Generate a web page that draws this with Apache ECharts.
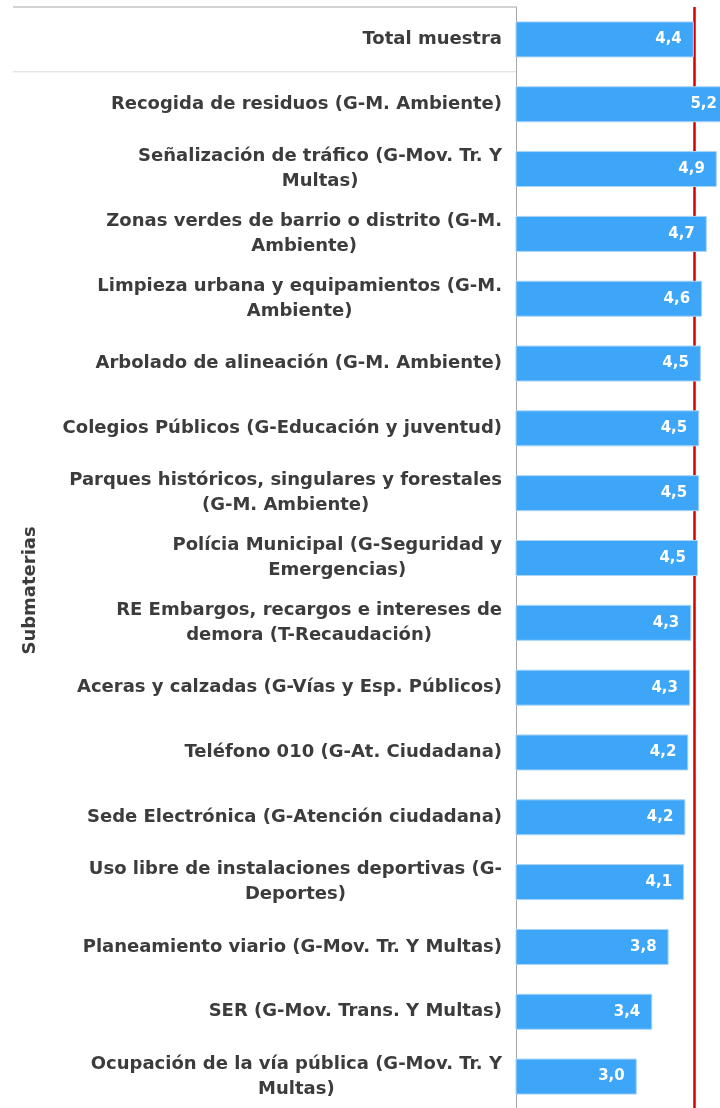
<!DOCTYPE html>
<html>
<head>
<meta charset="utf-8">
<script src="https://cdn.jsdelivr.net/npm/echarts@6/dist/echarts.min.js"></script>
<style>
  html, body { margin: 0; padding: 0; background: #fff; }
  #chart { width: 720px; height: 1108px; }
</style>
</head>
<body>
<div id="chart"></div>
<script>
// first entry is the sample total, the rest are the submaterias
const categories = [
  'Total muestra',
  'Recogida de residuos (G-M. Ambiente)',
  'Señalización de tráfico (G-Mov. Tr. Y\nMultas)',
  'Zonas verdes de barrio o distrito (G-M.\nAmbiente)',
  'Limpieza urbana y equipamientos (G-M.\nAmbiente)',
  'Arbolado de alineación (G-M. Ambiente)',
  'Colegios Públicos (G-Educación y juventud)',
  'Parques históricos, singulares y forestales\n(G-M. Ambiente)',
  'Polícia Municipal (G-Seguridad y\nEmergencias)',
  'RE Embargos, recargos e intereses de\ndemora (T-Recaudación)',
  'Aceras y calzadas (G-Vías y Esp. Públicos)',
  'Teléfono 010 (G-At. Ciudadana)',
  'Sede Electrónica (G-Atención ciudadana)',
  'Uso libre de instalaciones deportivas (G-\nDeportes)',
  'Planeamiento viario (G-Mov. Tr. Y Multas)',
  'SER (G-Mov. Trans. Y Multas)',
  'Ocupación de la vía pública (G-Mov. Tr. Y\nMultas)'
];
const values = [4.36, 5.2, 4.91, 4.67, 4.56, 4.53, 4.49, 4.49, 4.46, 4.30, 4.27, 4.23, 4.16, 4.13, 3.76, 3.37, 3.0];
const groupName = 'Submaterias';
const referenceValue = values[0];

const fmt = v => v.toFixed(1).replace('.', ',');
const textColor = '#3c3c3c';
const labelFont = { color: textColor, fontFamily: 'DejaVu Sans', fontWeight: 'bold', fontSize: 18, lineHeight: 25 };

var myChart = echarts.init(document.getElementById('chart'));
myChart.setOption({
  animation: false,
  grid: { left: 516, right: -9, top: 7, bottom: -1, outerBoundsMode: 'none' },
  xAxis: { type: 'value', min: 0.12, max: 5.2, show: false },
  yAxis: {
    type: 'category',
    inverse: true,
    data: categories,
    axisLine: { lineStyle: { color: '#a6a6a6', width: 1 } },
    axisTick: { show: false },
    splitLine: { show: false },
    axisLabel: Object.assign({
      interval: 0,
      margin: 14,
      // wrapped lines are centred under each other, block sits right against the axis
      formatter: function (value) {
        return value.split('\n').map(l => '{c|' + l + '}').join('\n');
      },
      rich: { c: Object.assign({ align: 'center' }, labelFont) }
    }, labelFont)
  },
  series: [{
    type: 'bar',
    data: values,
    barWidth: 36,
    itemStyle: { color: '#3ea6f9', borderColor: '#a9d4f7', borderWidth: 1 },
    label: {
      show: true,
      position: 'insideRight',
      distance: 12,
      color: '#fff',
      fontFamily: 'DejaVu Sans',
      fontWeight: 'bold',
      fontSize: 15,
      formatter: p => fmt(p.value)
    },
    markLine: {
      silent: true,
      z: 1,
      symbol: 'none',
      label: { show: false },
      lineStyle: { color: '#d40000', width: 2.5, type: 'solid' },
      data: [{ xAxis: referenceValue }]
    }
  }]
});

// header lines and the rotated group label, placed from the category axis
const p0 = myChart.convertToPixel({ yAxisIndex: 0 }, 0);
const p1 = myChart.convertToPixel({ yAxisIndex: 0 }, 1);
const pLast = myChart.convertToPixel({ yAxisIndex: 0 }, categories.length - 1);
const band = p1 - p0;
const axisX = myChart.convertToPixel({ xAxisIndex: 0 }, 0.12);
myChart.setOption({
  graphic: [
    { type: 'line', shape: { x1: 13, y1: p0 - band / 2, x2: axisX, y2: p0 - band / 2 }, style: { stroke: '#a6a6a6', lineWidth: 1 } },
    { type: 'line', shape: { x1: 13, y1: p0 + band / 2, x2: axisX, y2: p0 + band / 2 }, style: { stroke: '#d9d9d9', lineWidth: 1 } },
    {
      type: 'text',
      x: 30,
      y: (p1 + pLast) / 2,
      rotation: Math.PI / 2,
      style: {
        text: groupName,
        fill: textColor,
        font: 'bold 18px "DejaVu Sans"',
        align: 'center',
        verticalAlign: 'middle'
      }
    }
  ]
});
</script>
</body>
</html>
